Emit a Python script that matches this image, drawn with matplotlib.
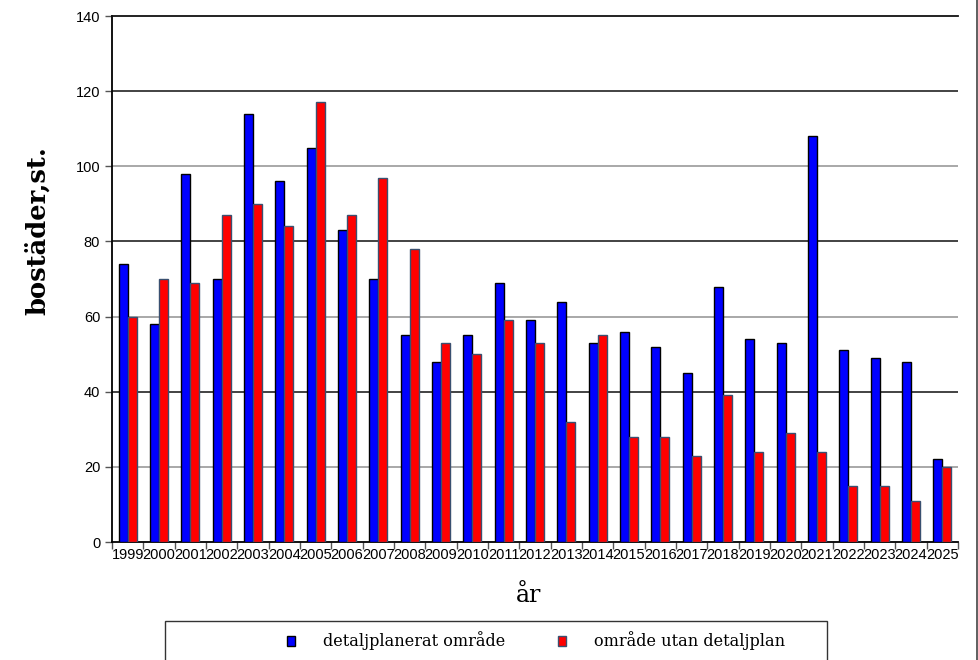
import numpy as np
import matplotlib
matplotlib.use("Agg")
import matplotlib.pyplot as plt
from matplotlib.patches import Patch, Rectangle
from matplotlib.lines import Line2D

years = [str(y) for y in range(1999, 2026)]
detaljplan = [74, 58, 98, 70, 114, 96, 105, 83, 70, 55, 48, 55, 69, 59, 64,
              53, 56, 52, 45, 68, 54, 53, 108, 51, 49, 48, 22]
utan_plan = [60, 70, 69, 87, 90, 84, 117, 87, 97, 78, 53, 50, 59, 53, 32,
             55, 28, 28, 23, 39, 24, 29, 24, 15, 15, 11, 20]
y_ticks = [0, 20, 40, 60, 80, 100, 120, 140]

W, H = 979, 660
fig = plt.figure(figsize=(W / 100, H / 100), dpi=100)
ax = fig.add_axes([112 / W, 1 - 542 / H, (958 - 112) / W, (542 - 16) / H])

x = np.arange(len(years))
bw = 0.29
ax.bar(x - bw / 2, detaljplan, bw, color="#0000ff", edgecolor="black", lw=1.0, zorder=3)
ax.bar(x + bw / 2, utan_plan, bw, color="#ff0000", edgecolor="#3a5070", lw=1.0, zorder=3)

ax.set_xlim(-0.5, len(years) - 0.5)
ax.set_ylim(0, 140)
ax.set_yticks(y_ticks)
ax.set_yticklabels([str(v) for v in y_ticks], fontsize=10.5, family="Liberation Sans")
for v in y_ticks[1:-1]:
    ax.axhline(v, color="#222222" if v % 40 == 0 else "#999999", lw=1.2, zorder=1)

# category labels centred, tick marks on category boundaries
ax.set_xticks(x)
ax.set_xticklabels(years, fontsize=10.5, family="Liberation Sans")
ax.tick_params(axis="x", length=0, pad=4)
ax.set_xticks(np.arange(-0.5, len(years)), minor=True)
ax.tick_params(axis="x", which="minor", length=5, width=1, color="#555555", direction="out")
ax.tick_params(axis="y", length=5, width=1, color="#555555", direction="out")

for s in ["left", "bottom", "top"]:
    ax.spines[s].set_linewidth(1.3)
ax.spines["right"].set_visible(False)
ax.spines["top"].set_color("#111111")

fig.text(37 / W, 1 - 231 / H, "bostäder,st.", rotation=90, ha="center", va="center",
         fontsize=18.5, fontweight="bold", family="DejaVu Serif")
fig.text(529 / W, 1 - 595 / H, "år", ha="center", va="center",
         fontsize=17, family="DejaVu Serif")

# legend frame runs off the bottom edge
fig.patches.append(Rectangle((165 / W, -0.05), (827 - 165) / W, 0.05 + (660 - 621) / H,
                             transform=fig.transFigure, fill=False, ec="#333333", lw=1.0))
handles = [Patch(facecolor="#0000ff", edgecolor="black"),
           Patch(facecolor="#ff0000", edgecolor="#3a5070")]
fig.legend(handles, ["detaljplanerat område", "område utan detaljplan"],
           ncol=2, loc="center left", bbox_to_anchor=(276 / W, 1 - 641 / H),
           frameon=False, handlelength=0.5, handleheight=0.55, handletextpad=1.7,
           columnspacing=3.3, borderpad=0.2,
           prop={"family": "DejaVu Serif", "size": 11.6})

fig.add_artist(Line2D([977 / W, 977 / W], [0, 1], color="#444444", lw=1.2,
                      transform=fig.transFigure))

fig.savefig("out.png", dpi=100)
